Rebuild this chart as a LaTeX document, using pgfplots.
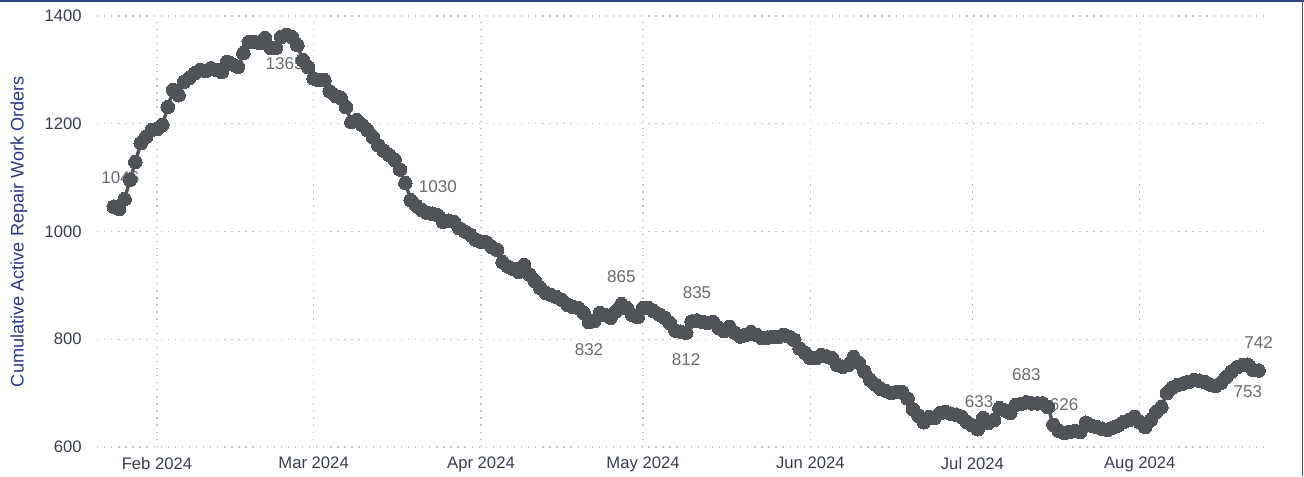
\documentclass[border=0pt]{standalone}
\usepackage{fontspec}
\setmainfont{Liberation Sans}
\usepackage{pgfplots}
\usepackage{pgfplotstable}
\pgfplotsset{compat=1.18}
\definecolor{linegray}{HTML}{505357}
\definecolor{labgray}{HTML}{696C70}
\definecolor{tickcol}{HTML}{383E4E}
\definecolor{navy}{HTML}{26398A}
\definecolor{gridc}{HTML}{C4C4C4}
\definecolor{frame}{HTML}{2F4183}

% day of year (Jan 1 = 0), cumulative active repair work orders
\pgfplotstableread{
day val
23 1046
24 1042
25 1060
26 1096
27 1129
28 1164
29 1176
30 1188
31 1190
32 1198
33 1231
34 1263
35 1253
36 1278
37 1285
38 1294
39 1300
40 1298
41 1303
42 1300
43 1296
44 1315
45 1310
46 1306
47 1331
48 1352
49 1352
50 1350
51 1359
52 1341
53 1341
54 1361
55 1365
56 1361
57 1346
58 1318
59 1305
60 1284
61 1281
62 1281
63 1260
64 1252
65 1248
66 1231
67 1203
68 1207
69 1198
70 1188
71 1175
72 1160
73 1150
74 1142
75 1133
76 1115
77 1090
78 1058
79 1048
80 1040
81 1035
82 1033
83 1030
84 1018
85 1020
86 1018
87 1006
88 1000
89 994
90 985
91 981
92 980
93 971
94 966
95 943
96 935
97 930
98 925
99 938
100 920
101 908
102 895
103 886
104 882
105 878
106 873
107 864
108 860
109 858
110 849
111 832
112 834
113 849
114 845
115 840
116 852
117 865
118 858
119 845
120 841
121 858
122 858
123 852
124 846
125 840
126 830
127 816
128 814
129 812
130 833
131 835
132 832
133 830
134 832
135 821
136 815
137 823
138 812
139 805
140 808
141 813
142 808
143 802
144 803
145 804
146 804
147 808
148 805
149 799
150 783
151 775
152 765
153 765
154 771
155 768
156 765
157 752
158 749
159 752
160 767
161 756
162 740
163 725
164 716
165 708
166 704
167 700
168 702
169 702
170 690
171 670
172 658
173 646
174 656
175 654
176 663
177 665
178 662
179 660
180 656
181 646
182 640
183 633
184 654
185 645
186 650
187 672
188 668
189 663
190 678
191 680
192 683
193 681
194 681
195 681
196 674
197 641
198 630
199 626
200 628
201 630
202 628
203 645
204 640
205 637
206 634
207 632
208 636
209 640
210 646
211 650
212 656
213 646
214 637
215 650
216 665
217 674
218 700
219 710
220 715
221 718
222 721
223 724
224 723
225 721
226 716
227 713
228 719
229 730
230 740
231 748
232 752
233 753
234 743
235 742
}\workorders

% labelled points, offsets of the label centre in pt
\pgfplotstableread{
day val lbl dx dy
23 1046 1046 5 21.5
55 1365 1365 -1.5 -21.5
83 1030 1030 0 21.5
111 832 832 0 -21
117 865 865 0 21
129 812 812 0 -20
131 835 835 0 21
183 633 633 1 20.5
192 683 683 0 21
199 626 626 0 21
233 753 753 0 -20
235 742 742 0 21
}\labels

\begin{document}
\begin{tikzpicture}
\useasboundingbox (-72.75pt,-21.75pt) rectangle (905.25pt,335.25pt);
\begin{axis}[
  at={(0pt,0pt)}, anchor=south west,
  scale only axis, width=879.75pt, height=323.25pt,
  xmin=19.89, xmax=237.11, ymin=600, ymax=1400,
  axis line style={draw=none},
  tick style={draw=none},
  major tick length=0pt,
  xtick={31,60,91,121,152,182,213},
  xticklabels={Feb 2024,Mar 2024,Apr 2024,May 2024,Jun 2024,Jul 2024,Aug 2024},
  ytick={600,800,1000,1200,1400},
  yticklabels={600,800,1000,1200,1400},
  grid=major,
  major grid style={gridc, line width=1pt, dash pattern=on 1pt off 4.3pt},
  tick label style={font=\fontsize{12.5}{14}\selectfont, text=tickcol, inner sep=0pt},
  xticklabel style={anchor=north, yshift=-7.5pt},
  yticklabel style={anchor=east, xshift=-11.25pt},
  ylabel={Cumulative Active Repair Work Orders},
  ylabel style={at={(axis description cs:0,0.5)}, anchor=center, yshift=58.5pt,
    font=\fontsize{13.6}{15}\selectfont, text=navy, inner sep=0pt},
]
\addplot[draw=none, mark=none, nodes near coords, point meta=explicit symbolic,
  visualization depends on={\thisrow{dx} \as \dx},
  visualization depends on={\thisrow{dy} \as \dy},
  nodes near coords style={anchor=center, xshift={\dx*1pt}, yshift={\dy*1pt},
    font=\fontsize{12.8}{14}\selectfont, text=labgray, inner sep=0pt}]
  table[x=day, y=val, meta=lbl] {\labels};
\addplot[color=linegray, line width=2.6pt, mark=*, mark size=5.1pt,
  mark options={fill=linegray, draw=linegray, line width=0pt}]
  table[x=day, y=val] {\workorders};
\end{axis}
\draw[frame, line width=1.6pt] (-72.75pt,334.45pt) -- (905.25pt,334.45pt);
\draw[frame!70!gray, line width=0.9pt] (903.9pt,-21.75pt) -- (903.9pt,335.25pt);
\end{tikzpicture}
\end{document}
